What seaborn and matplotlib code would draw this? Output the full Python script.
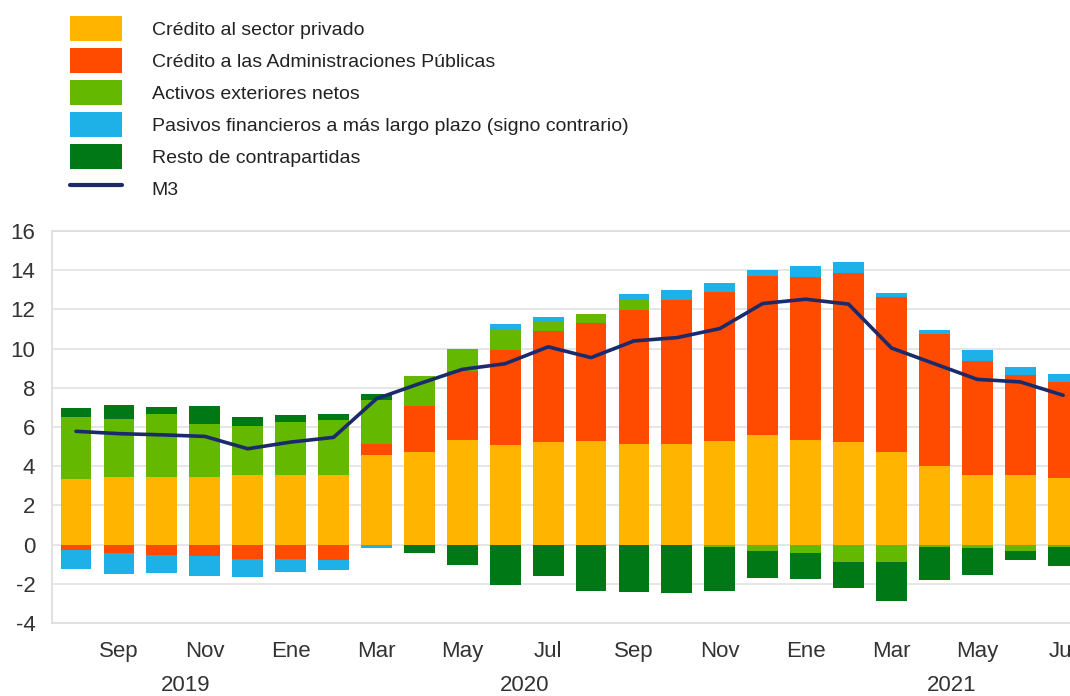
import numpy as np
import pandas as pd
import matplotlib
matplotlib.use('Agg')
import matplotlib.pyplot as plt
import seaborn as sns
from matplotlib.patches import Patch
from matplotlib.lines import Line2D

# Datos (tasas de variación interanual, contribuciones en pp)
fechas = ['2019-08', '2019-09', '2019-10', '2019-11', '2019-12',
          '2020-01', '2020-02', '2020-03', '2020-04', '2020-05', '2020-06',
          '2020-07', '2020-08', '2020-09', '2020-10', '2020-11', '2020-12',
          '2021-01', '2021-02', '2021-03', '2021-04', '2021-05', '2021-06',
          '2021-07']

credito_privado = [3.36, 3.44, 3.44, 3.44, 3.53, 3.53, 3.53, 4.55, 4.72, 5.32, 5.06, 5.23,
                   5.28, 5.11, 5.11, 5.28, 5.60, 5.35, 5.26, 4.72, 3.99, 3.53, 3.53, 3.41]
credito_aapp = [-0.27, -0.44, -0.53, -0.60, -0.73, -0.73, -0.77, 0.59, 2.33, 3.54, 4.89, 5.66,
                6.03, 6.88, 7.39, 7.62, 8.10, 8.31, 8.62, 7.89, 6.73, 5.82, 5.14, 4.89]
activos_exteriores = [3.15, 2.95, 3.24, 2.73, 2.53, 2.71, 2.84, 2.22, 1.54, 1.11, 0.99, 0.46,
                      0.48, 0.48, 0.00, -0.10, -0.34, -0.44, -0.90, -0.90, -0.12, -0.15, -0.34, -0.10]
pasivos_largo = [-0.97, -1.06, -0.92, -0.98, -0.91, -0.68, -0.52, -0.17, 0.00, 0.00, 0.30, 0.27,
                 0.00, 0.31, 0.48, 0.46, 0.30, 0.56, 0.55, 0.25, 0.25, 0.60, 0.39, 0.39]
resto = [0.47, 0.75, 0.34, 0.90, 0.43, 0.37, 0.31, 0.31, -0.43, -1.02, -2.04, -1.58,
         -2.35, -2.40, -2.48, -2.28, -1.38, -1.31, -1.33, -1.96, -1.68, -1.38, -0.44, -1.00]
m3 = [5.78, 5.66, 5.60, 5.52, 4.89, 5.23, 5.47, 7.44, 8.21, 8.94, 9.23, 10.09,
      9.54, 10.39, 10.56, 11.02, 12.30, 12.52, 12.27, 10.03, 9.23, 8.43, 8.30, 7.62]

meses = ['Sep', 'Nov', 'Ene', 'Mar', 'May', 'Jul', 'Sep', 'Nov', 'Ene', 'Mar', 'May', 'Jul']
anios = ['2019', '2020', '2021']

series = [
    ('Crédito al sector privado', credito_privado, '#FFB400'),
    ('Crédito a las Administraciones Públicas', credito_aapp, '#FF4B00'),
    ('Activos exteriores netos', activos_exteriores, '#65B800'),
    ('Pasivos financieros a más largo plazo (signo contrario)', pasivos_largo, '#1EB1E8'),
    ('Resto de contrapartidas', resto, '#007816'),
]
color_m3 = '#1B2A6B'

sns.set_style('white')
plt.rcParams['font.family'] = ['Liberation Sans', 'DejaVu Sans']
plt.rcParams['axes.unicode_minus'] = False

n = len(fechas)
fig = plt.figure(figsize=(10.7, 6.96), dpi=100)
ax = fig.add_axes([52 / 1070, 73 / 696, 1 - 52 / 1070, 392 / 696])

# barras apiladas: positivos hacia arriba, negativos hacia abajo
base_pos = np.zeros(n)
base_neg = np.zeros(n)
for nombre, valores, color in series:
    v = np.array(valores)
    pos = np.where(v > 0, v, 0.0)
    neg = np.where(v < 0, v, 0.0)
    sns.barplot(x=fechas, y=pos, color=color, saturation=1, width=0.72,
                errorbar=None, linewidth=0, bottom=base_pos.copy(), ax=ax)
    sns.barplot(x=fechas, y=neg, color=color, saturation=1, width=0.72,
                errorbar=None, linewidth=0, bottom=base_neg.copy(), ax=ax)
    base_pos += pos
    base_neg += neg

sns.lineplot(x=np.arange(n), y=m3, color=color_m3, linewidth=2.6, ax=ax, legend=False)

# ejes
ax.set_xlim(-0.56, 23.16)
ax.set_ylim(-4, 16)
ax.set_xticks(np.arange(1, n, 2))
ax.set_xticklabels(meses)
ax.set_yticks(np.arange(-4, 17, 2))
ax.set_xlabel('')
ax.set_ylabel('')
ax.tick_params(axis='x', length=0, pad=13, labelsize=16, labelcolor='#333333')
ax.tick_params(axis='y', length=0, pad=12, labelsize=16, labelcolor='#333333')
ax.yaxis.grid(True, color='#e4e4e4', linewidth=1.3)
ax.set_axisbelow(True)
for lado in ['left', 'top', 'bottom']:
    ax.spines[lado].set_color('#dedede')
    ax.spines[lado].set_linewidth(1.3)
ax.spines['right'].set_visible(False)

for x, anio in zip([2.55, 10.45, 20.4], anios):
    ax.text(x, -0.173, anio, transform=ax.get_xaxis_transform(),
            ha='center', va='baseline', fontsize=16, color='#333333')

# leyenda
handles = [Patch(facecolor=c, edgecolor='none') for _, _, c in series]
handles.append(Line2D([0], [0], color=color_m3, linewidth=3))
labels = [s[0] for s in series] + ['M3']
fig.legend(handles, labels, loc='upper left', bbox_to_anchor=(70 / 1070, 1 - 16 / 696),
           frameon=False, fontsize=14, handlelength=2.67, handleheight=1.6,
           handletextpad=1.54, labelspacing=0.36, borderpad=0, borderaxespad=0,
           labelcolor='#222222')

fig.savefig('out.png', dpi=100)
